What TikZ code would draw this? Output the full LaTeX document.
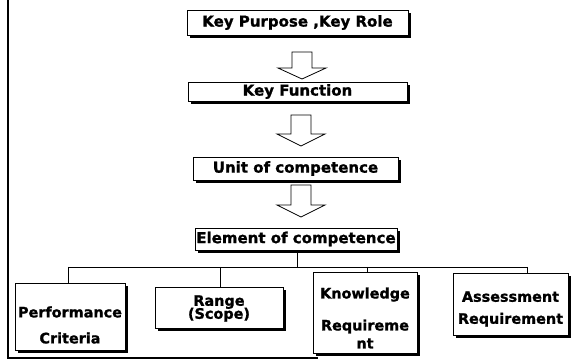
\documentclass[tikz,border=0pt]{standalone}
\usepackage{fontspec}
\setmainfont{DejaVu Sans}[BoldFeatures={FakeBold=1.2}]
\usetikzlibrary{shadows}
\newcommand\blockarrowdown[5]{% x, shaft top, head base, tip, name
  \draw[harrow] (#1-10,#2) -- (#1+10,#2) -- (#1+10,#3) -- (#1+24,#3) -- (#1,#4) -- (#1-24,#3) -- (#1-10,#3) -- cycle;
  \coordinate (#5) at (#1,#4);}
\begin{document}
\begin{tikzpicture}[x=1pt,y=-1pt,
 box/.style={draw=black, line width=0.8pt, fill=white, inner sep=0pt,
   drop shadow={shadow xshift=2.6pt, shadow yshift=-2.6pt, fill=black, opacity=1},
   font=\bfseries\fontsize{15}{17}\selectfont},
 txt/.style={inner sep=0pt, align=center, font=\bfseries\fontsize{14.4}{17}\selectfont},
 link/.style={line width=0.8pt},
 harrow/.style={draw, line width=0.8pt, fill=white}]
\useasboundingbox (0,0) rectangle (584,363);
% frame
\draw[line width=2.5pt] (8,0) -- (8,358) -- (318,358);
% top chain
\node[box, minimum width=221, minimum height=25] (b1) at (297.5,22.5) {Key Purpose ,Key Role};
\node[box, minimum width=219, minimum height=19] (b2) at (297.5,91.5) {Key Function};
\node[box, minimum width=205, minimum height=23] (b3) at (295.5,168.5) {Unit of competence};
\node[box, minimum width=202, minimum height=22] (b4) at (296,239) {Element of competence};
\blockarrowdown{302}{52}{68}{79}{a1}
\blockarrowdown{301}{115}{134}{146}{a2}
\blockarrowdown{301}{185}{205}{217}{a3}
% bottom boxes
\node[box, minimum width=110, minimum height=67] (pc) at (70,316.5) {};
\node[txt] (pct) at (70,325) {Performance\\[9pt]Criteria};
\node[box, minimum width=128, minimum height=41] (rs) at (219,307.5) {};
\node[txt] (rst) at (219,308.5) {Range\\[-4pt](Scope)};
\node[box, minimum width=104, minimum height=81] (kr) at (365,312.5) {};
\node[txt] (krt) at (365,318) {Knowledge\\[15pt]Requireme\\[1pt]nt};
\node[box, minimum width=115, minimum height=62] (ar) at (510.5,304) {};
\node[txt] (art) at (510.5,309) {Assessment\\[5pt]Requirement};
% tree
\coordinate (j) at (297,267);
\coordinate (h1) at (68,267);
\coordinate (h2) at (220,267);
\coordinate (h3) at (367,267);
\coordinate (h4) at (527,267);
\draw[link] (j |- b4.south) -- (j);
\draw[link] (h1) -- (h4);
\draw[link] (h1) -- (h1 |- pc.north);
\draw[link] (h2) -- (h2 |- rs.north);
\draw[link] (h3) -- (h3 |- kr.north);
\draw[link] (h4) -- (h4 |- ar.north);
\end{tikzpicture}
\end{document}
